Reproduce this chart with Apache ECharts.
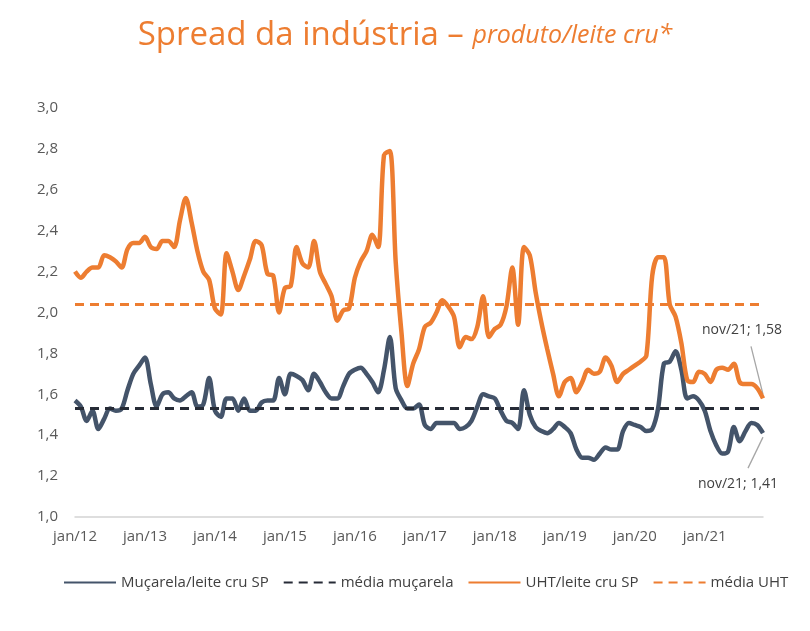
<!DOCTYPE html>
<html>
<head>
<meta charset="utf-8">
<title>Spread da indústria</title>
<script src="https://cdn.jsdelivr.net/npm/echarts@6/dist/echarts.min.js"></script>
<style>
  html, body { margin: 0; padding: 0; background: #fff; }
  #main { width: 810px; height: 631px; }
</style>
</head>
<body>
<div id="main"></div>
<script>
// meses e anos do eixo x (jan/12 ... nov/21)
var meses = ['jan', 'fev', 'mar', 'abr', 'mai', 'jun', 'jul', 'ago', 'set', 'out', 'nov', 'dez'];
var anos = ['12', '13', '14', '15', '16', '17', '18', '19', '20', '21'];
var categorias = [];
for (var a = 0; a < anos.length; a++) {
    for (var m = 0; m < meses.length; m++) {
        if (anos[a] === '21' && m > 10) break;
        categorias.push(meses[m] + '/' + anos[a]);
    }
}

// muçarela / leite cru SP
var mucarela = [
    1.57, 1.54, 1.47, 1.52, 1.43, 1.48, 1.53, 1.52, 1.53, 1.62, 1.70, 1.74,
    1.78, 1.65, 1.54, 1.60, 1.61, 1.58, 1.57, 1.59, 1.61, 1.54, 1.55, 1.68,
    1.52, 1.49, 1.58, 1.58, 1.52, 1.58, 1.52, 1.52, 1.56, 1.57, 1.57, 1.68,
    1.60, 1.70, 1.69, 1.67, 1.62, 1.70, 1.66, 1.61, 1.58, 1.58, 1.64, 1.70,
    1.72, 1.73, 1.70, 1.66, 1.61, 1.72, 1.88, 1.63, 1.57, 1.53, 1.53, 1.55,
    1.45, 1.43, 1.46, 1.46, 1.46, 1.46, 1.43, 1.44, 1.47, 1.54, 1.60, 1.59,
    1.58, 1.52, 1.47, 1.46, 1.43, 1.62, 1.50, 1.44, 1.42, 1.41, 1.43, 1.46,
    1.44, 1.41, 1.33, 1.29, 1.29, 1.28, 1.31, 1.34, 1.33, 1.33, 1.42, 1.46,
    1.45, 1.44, 1.42, 1.43, 1.53, 1.75, 1.76, 1.81, 1.72, 1.58, 1.59, 1.57,
    1.52, 1.42, 1.35, 1.31, 1.32, 1.44, 1.37, 1.42, 1.46, 1.45, 1.41
];

// UHT / leite cru SP
var uht = [
    2.20, 2.17, 2.20, 2.22, 2.22, 2.28, 2.27, 2.25, 2.22, 2.31, 2.34, 2.34,
    2.37, 2.32, 2.31, 2.35, 2.35, 2.32, 2.45, 2.56, 2.44, 2.30, 2.20, 2.16,
    2.02, 1.99, 2.29, 2.20, 2.11, 2.18, 2.26, 2.35, 2.33, 2.19, 2.18, 2.00,
    2.12, 2.13, 2.32, 2.24, 2.22, 2.35, 2.20, 2.14, 2.08, 1.96, 2.01, 2.02,
    2.17, 2.25, 2.30, 2.38, 2.32, 2.77, 2.79, 2.25, 1.90, 1.64, 1.75, 1.82,
    1.93, 1.95, 2.00, 2.06, 2.03, 1.98, 1.83, 1.88, 1.87, 1.93, 2.08, 1.88,
    1.92, 1.94, 2.03, 2.22, 1.94, 2.32, 2.28, 2.10, 1.95, 1.82, 1.70, 1.59,
    1.66, 1.68, 1.61, 1.66, 1.72, 1.70, 1.71, 1.78, 1.74, 1.66, 1.70, 1.72,
    1.74, 1.76, 1.79, 2.18, 2.27, 2.27, 2.04, 1.98, 1.85, 1.67, 1.66, 1.71,
    1.70, 1.66, 1.72, 1.73, 1.72, 1.75, 1.66, 1.65, 1.65, 1.63, 1.58
];

// médias do período
var mediaMucarela = 1.533;
var mediaUHT = 2.037;

// eixo y
var yMin = 1.0, yMax = 3.0, yStep = 0.2;

var azul = '#44546A';
var laranja = '#ED7D31';
var escuro = '#262B36';

function virgula(v, casas) {
    return v.toFixed(casas).replace('.', ',');
}

var myChart = echarts.init(document.getElementById('main'));

var option = {
    animation: false,
    title: {
        text: '{a|Spread da indústria – }{b|produto/leite cru*}',
        left: 'center',
        top: 14,
        textStyle: {
            rich: {
                a: { fontSize: 33, color: laranja, fontFamily: 'Open Sans', fontWeight: 'normal' },
                b: { fontSize: 25, color: laranja, fontFamily: 'Open Sans', fontWeight: 'normal', fontStyle: 'italic' }
            }
        }
    },
    grid: {
        left: 75,
        right: 47,
        top: 108,
        bottom: 114
    },
    legend: {
        bottom: 36,
        left: 58,
        itemWidth: 52,
        itemHeight: 12,
        itemGap: 14,
        itemStyle: { opacity: 0 },
        textStyle: { color: '#404040', fontSize: 15, fontFamily: 'Open Sans' },
        data: ['Muçarela/leite cru SP', 'média muçarela', 'UHT/leite cru SP', 'média UHT']
    },
    xAxis: {
        type: 'category',
        boundaryGap: false,
        data: categorias,
        axisLine: { lineStyle: { color: '#D4D4D4', width: 1.5 } },
        axisTick: { show: false },
        axisLabel: {
            interval: 11,
            margin: 12,
            color: '#595959',
            fontSize: 15,
            fontFamily: 'Open Sans'
        }
    },
    yAxis: {
        type: 'value',
        min: yMin,
        max: yMax,
        interval: yStep,
        axisLine: { show: false },
        axisTick: { show: false },
        splitLine: { show: false },
        axisLabel: {
            margin: 17,
            color: '#595959',
            fontSize: 15,
            fontFamily: 'Open Sans',
            formatter: function (v) { return virgula(v, 1); }
        }
    },
    series: [
        {
            name: 'Muçarela/leite cru SP',
            type: 'line',
            data: mucarela,
            smooth: 0.3,
            symbol: 'none',
            z: 3,
            color: azul,
            lineStyle: { color: azul, width: 4.5 }
        },
        {
            name: 'média muçarela',
            type: 'line',
            data: [],
            symbol: 'none',
            color: escuro,
            lineStyle: { color: escuro, width: 2.8, type: [9, 6] },
            markLine: {
                silent: true,
                symbol: 'none',
                label: { show: false },
                lineStyle: { color: escuro, width: 2.8, type: [9, 6] },
                data: [{ yAxis: mediaMucarela }]
            }
        },
        {
            name: 'UHT/leite cru SP',
            type: 'line',
            data: uht,
            smooth: 0.3,
            symbol: 'none',
            z: 3,
            color: laranja,
            lineStyle: { color: laranja, width: 4.5 }
        },
        {
            name: 'média UHT',
            type: 'line',
            data: [],
            symbol: 'none',
            color: laranja,
            lineStyle: { color: laranja, width: 2.8, type: [9, 6] },
            markLine: {
                silent: true,
                symbol: 'none',
                label: { show: false },
                lineStyle: { color: laranja, width: 2.8, type: [9, 6] },
                data: [{ yAxis: mediaUHT }]
            }
        }
    ]
};

myChart.setOption(option);

// rótulos do último ponto (nov/21) com linha guia
function rotuloFinal(serieIdx, arr, tx, ty, lx, ly) {
    var i = arr.length - 1;
    var p = myChart.convertToPixel({ seriesIndex: serieIdx }, [i, arr[i]]);
    return [
        {
            type: 'line',
            silent: true,
            shape: { x1: p[0], y1: p[1] + (ly < 0 ? -4 : 4), x2: p[0] + lx, y2: p[1] + ly },
            style: { stroke: '#A6A6A6', lineWidth: 1.3 }
        },
        {
            type: 'text',
            silent: true,
            x: p[0] + tx,
            y: p[1] + ty,
            style: {
                text: categorias[i] + '; ' + virgula(arr[i], 2),
                fill: '#404040',
                font: '14px "Open Sans"',
                align: 'center',
                verticalAlign: 'middle'
            }
        }
    ];
}

myChart.setOption({
    graphic: rotuloFinal(2, uht, -21, -68, -12, -52)
        .concat(rotuloFinal(0, mucarela, -25, 51, -15, 35))
});
</script>
</body>
</html>
